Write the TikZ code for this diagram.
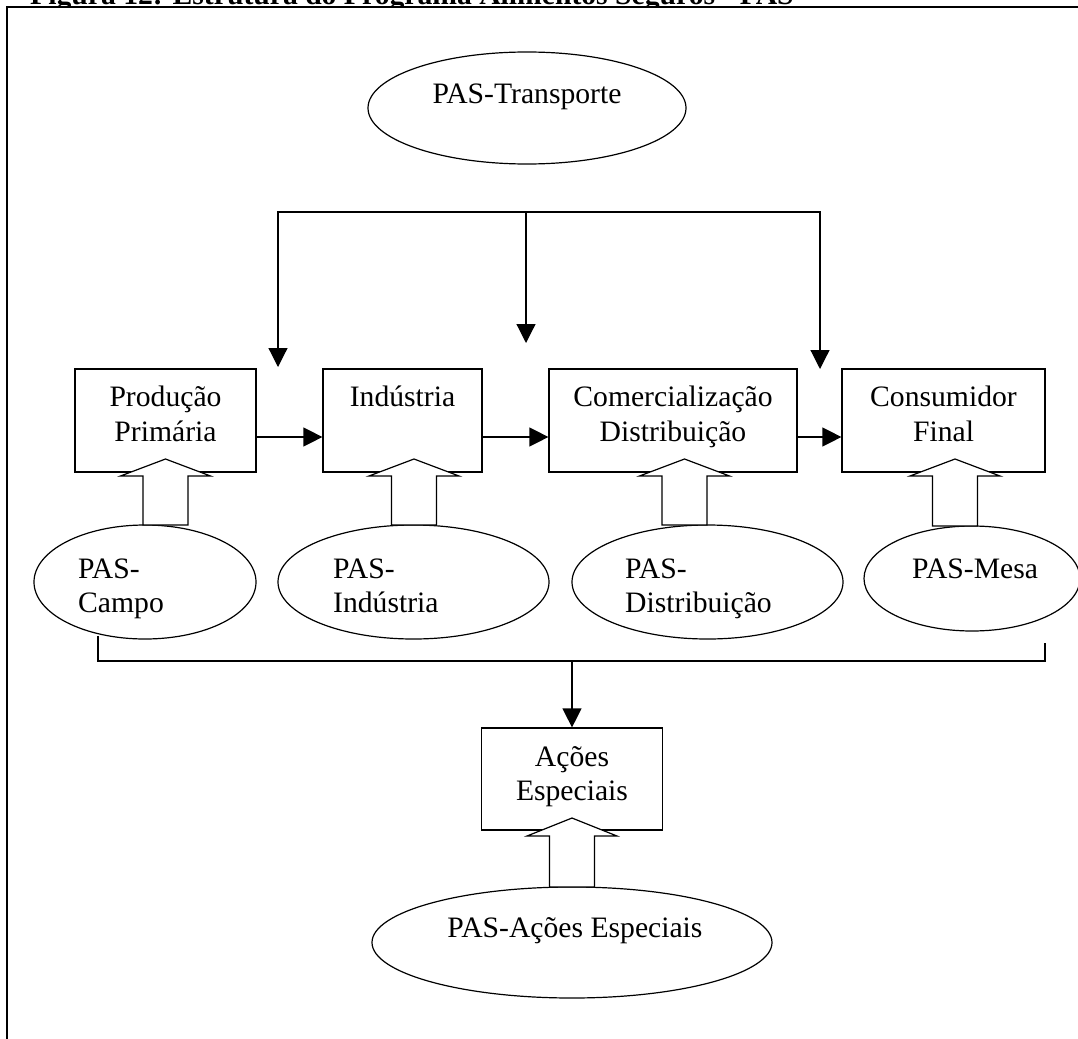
\documentclass[tikz,border=0pt]{standalone}
\usepackage{fontspec}
\setmainfont{Liberation Serif}
\usetikzlibrary{arrows.meta,shapes.geometric,calc}
\newcommand\blockup[4]{% x, tip y, head base y, bottom y
  \draw[blk] ({#1-22.5},#4) -- ({#1-22.5},#3) -- ({#1-45},#3) -- (#1,#2)
    -- ({#1+45},#3) -- ({#1+22.5},#3) -- ({#1+22.5},#4) -- cycle;}
\begin{document}
\begin{tikzpicture}[x=1pt,y=-1pt,
  every node/.style={font=\fontsize{29.65}{34}\selectfont},
  box/.style={draw,line width=1.2pt,rectangle,inner sep=0pt},
  oval/.style={draw,line width=1.2pt,ellipse,inner sep=0pt},
  txt/.style={inner sep=0pt,anchor=base},
  txtl/.style={inner sep=0pt,anchor=base west},
  arr/.style={line width=1.2pt,-{Triangle[length=19pt,width=19pt]}},
  arrb/.style={line width=1.2pt,{Triangle[length=19pt,width=19pt]}-{Triangle[length=19pt,width=19pt]}},
  conn/.style={line width=1.2pt},
  blk/.style={draw,line width=1.2pt,fill=white,line join=miter}]
\useasboundingbox (0,0) rectangle (1078,1038);

% title (partly cut off by the page edge)
\node[inner sep=0pt,anchor=base west,font=\bfseries\fontsize{29.65}{34}\selectfont] (title) at (30,5)
  {Figura 12: Estrutura do Programa Alimentos Seguros - PAS};
% frame
\fill[white] (7,7) rectangle (1090,1050);
\draw[line width=2pt] (7,1050) -- (7,7) -- (1090,7);

% PAS-Transporte
\node[oval,minimum width=318pt,minimum height=112pt] (T) at (527,108) {};
\node[txt] (tT) at (527,103) {PAS-Transporte};

% chain boxes
\node[box,minimum width=181pt,minimum height=103pt] (PP) at (165.5,420.5) {};
\node[box,minimum width=159pt,minimum height=103pt] (IN) at (402.5,420.5) {};
\node[box,minimum width=248pt,minimum height=103pt] (CD) at (673,420.5) {};
\node[box,minimum width=203pt,minimum height=103pt] (CF) at (943.5,420.5) {};
\node[txt] (tPP1) at (165.5,406) {Produção};
\node[txt] (tPP2) at (165.5,441) {Primária};
\node[txt] (tIN1) at (402.5,406) {Indústria};
\node[txt] (tCD1) at (673,406) {Comercialização};
\node[txt] (tCD2) at (673,441) {Distribuição};
\node[txt] (tCF1) at (943.5,406) {Consumidor};
\node[txt] (tCF2) at (943.5,441) {Final};

% horizontal chain arrows
\draw[arr] ($(PP.east)+(0,16.5)$) -- ($(IN.west)+(0,16.5)$);
\draw[arr] ($(IN.east)+(0,16.5)$) -- ($(CD.west)+(0,16.5)$);
\draw[arr] ($(CD.east)+(0,16.5)$) -- ($(CF.west)+(0,16.5)$);

% transport distribution lines
\coordinate (a1) at (278,212);
\coordinate (a2) at (526,212);
\coordinate (a3) at (820,212);
\coordinate (e1) at (278,367);
\coordinate (e2) at (526,343);
\coordinate (e3) at (820,369);
\draw[arrb] (e1) -- (a1) -- (a3) -- (e3);
\draw[arr] (a2) -- (e2);

% PAS ellipses
\node[oval,minimum width=222pt,minimum height=114pt] (PC) at (145,582) {};
\node[oval,minimum width=271pt,minimum height=114pt] (PI) at (413.5,582) {};
\node[oval,minimum width=271pt,minimum height=114pt] (PD) at (707.5,582) {};
\node[oval,minimum width=216pt,minimum height=105pt] (PM) at (972,578.5) {};
\node[txtl] (tPC1) at (78,578) {PAS-};
\node[txtl] (tPC2) at (78,612) {Campo};
\node[txtl] (tPI1) at (333,578) {PAS-};
\node[txtl] (tPI2) at (333,612) {Indústria};
\node[txtl] (tPD1) at (625,578) {PAS-};
\node[txtl] (tPD2) at (625,612) {Distribuição};
\node[txtl] (tPM1) at (912,578) {PAS-Mesa};

% hollow block arrows
\blockup{165.5}{459}{476}{525}
\blockup{414}{459}{476}{525}
\blockup{684.5}{459}{476}{525}
\blockup{955}{459}{476}{526}

% collecting line
\coordinate (c1) at (98,636);
\coordinate (c2) at (98,661);
\coordinate (c3) at (1045,661);
\coordinate (c4) at (1045,643);
\coordinate (c5) at (572,661);
\draw[conn] (c1) -- (c2) -- (c3) -- (c4);

% Acoes Especiais
\node[box,minimum width=181pt,minimum height=102pt] (AE) at (572,779) {};
\node[txt] (tAE1) at (572,766) {Ações};
\node[txt] (tAE2) at (572,800) {Especiais};
\draw[arr] (c5) -- (AE.north);

\node[oval,minimum width=400pt,minimum height=111pt] (PAE) at (572,942.5) {};
\node[txt] (tPAE) at (575,937) {PAS-Ações Especiais};
\blockup{572}{818}{836}{887}
\end{tikzpicture}
\end{document}
